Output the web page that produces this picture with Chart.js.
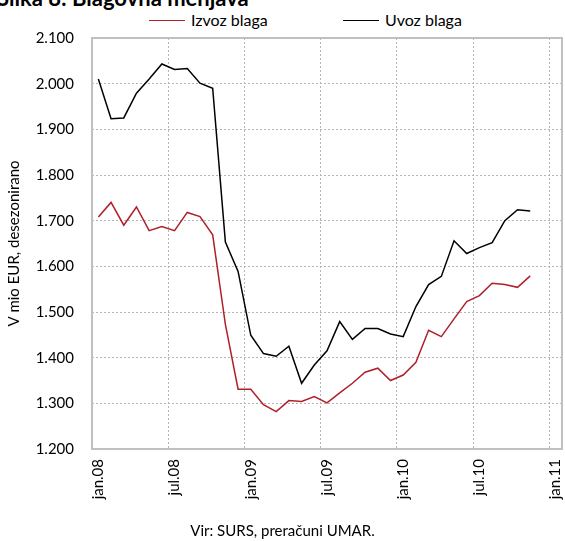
<!DOCTYPE html>
<html>
<head>
<meta charset="utf-8">
<script src="https://cdn.jsdelivr.net/npm/chart.js@4"></script>
<style>
  html, body { margin: 0; padding: 0; background: #fff; }
  #wrap { position: relative; width: 565px; height: 541px; overflow: hidden; font-family: Lato, sans-serif; color: #000; }
  #heading { position: absolute; left: -3px; top: -13px; font-size: 22px; line-height: 22px; font-weight: 700; white-space: nowrap; }
  .leg { position: absolute; top: 11px; font-size: 16px; line-height: 18px; white-space: nowrap; }
  .leg span { position: absolute; top: 9px; height: 0; border-top: 1.5px solid; }
  #source { position: absolute; left: 0; width: 565px; top: 521px; text-align: center; font-size: 15px; }
  canvas { position: absolute; left: 0; top: 0; }
</style>
</head>
<body>
<div id="wrap">
  <div id="heading">Slika 8: Blagovna menjava</div>
  <div class="leg" id="leg0"></div>
  <div class="leg" id="leg1"></div>
  <canvas id="chart" width="565" height="541"></canvas>
  <div id="source">Vir: SURS, preračuni UMAR.</div>
</div>
<script>
// Mesečni podatki, jan.08 - nov.10, v mio EUR (desezonirano)
const MONTHS = ['jan', 'feb', 'mar', 'apr', 'maj', 'jun', 'jul', 'avg', 'sep', 'okt', 'nov', 'dec'];
const YEARS = ['08', '09', '10', '11'];

const izvoz = [1708, 1740, 1690, 1730, 1678, 1687, 1678, 1718, 1709, 1669, 1473, 1331,
               1331, 1297, 1282, 1306, 1304, 1315, 1301, 1323, 1344, 1368, 1377, 1350,
               1362, 1390, 1460, 1446, 1485, 1523, 1536, 1563, 1560, 1554, 1579];
const uvoz = [2010, 1923, 1925, 1979, 2010, 2043, 2031, 2033, 2001, 1990, 1653, 1589,
              1449, 1409, 1403, 1425, 1344, 1384, 1415, 1479, 1440, 1464, 1464, 1452,
              1446, 1512, 1560, 1578, 1656, 1628, 1641, 1652, 1700, 1724, 1721];

const SERIES = [
    { label: 'Izvoz blaga', data: izvoz, color: '#b0202a', legX: 149 },
    { label: 'Uvoz blaga', data: uvoz, color: '#000000', legX: 343 }
];

// oznake: jan.08 ... jan.11 (37 mesecev)
const labels = [];
YEARS.forEach(y => MONTHS.forEach(m => labels.push(m + '.' + y)));
labels.length = 37;

const GRID = '#b5b5b5';

// legenda v HTML (razmik med elementoma je večji kot pri Chart.js)
SERIES.forEach((s, i) => {
    const el = document.getElementById('leg' + i);
    el.style.left = s.legX + 'px';
    el.innerHTML = `<span style="left:0;width:36px;border-color:${s.color}"></span>` +
        `<b style="font-weight:400;margin-left:42px">${s.label}</b>`;
});

const boxPlugin = {
    id: 'box',
    beforeDatasetsDraw(chart) {
        const { ctx, chartArea: a } = chart;
        ctx.save();
        ctx.strokeStyle = '#c0c0c0';
        ctx.lineWidth = 2;
        ctx.strokeRect(a.left, a.top, a.right - a.left, a.bottom - a.top);
        ctx.restore();
    }
};

Chart.defaults.font.family = 'Lato, sans-serif';
Chart.defaults.font.size = 15;
Chart.defaults.color = '#000';

new Chart(document.getElementById('chart'), {
    type: 'line',
    data: {
        labels: labels,
        datasets: SERIES.map(s => ({
            label: s.label,
            data: s.data,
            borderColor: s.color,
            borderWidth: 1.5,
            pointRadius: 0,
            tension: 0,
            fill: false
        }))
    },
    options: {
        responsive: false,
        animation: false,
        layout: { padding: { top: 38, right: 3, bottom: 0, left: 0 } },
        plugins: {
            legend: { display: false },
            tooltip: { enabled: false }
        },
        scales: {
            x: {
                offset: true,
                afterFit: s => {
                    s.height = 92;
                    s.paddingLeft = 0;
                    s.paddingRight = 0;
                },
                grid: {
                    offset: true,
                    drawTicks: false,
                    color: c => (c.index % 6 === 0 ? GRID : 'transparent'),
                    lineWidth: 1
                },
                border: { display: false, dash: [2, 2] },
                ticks: {
                    autoSkip: false,
                    maxRotation: 90,
                    minRotation: 90,
                    padding: 10,
                    callback: function (v, i) {
                        return i % 6 === 0 ? this.getLabelForValue(v) : '';
                    }
                }
            },
            y: {
                min: 1200,
                max: 2100,
                afterFit: s => { s.width = 92; },
                grid: { drawTicks: false, color: GRID, lineWidth: 1 },
                border: { display: false, dash: [2, 2] },
                ticks: {
                    stepSize: 100,
                    padding: 18,
                    callback: v => (v / 1000).toFixed(3)
                },
                title: {
                    display: true,
                    text: 'V mio EUR, desezonirano',
                    padding: { top: 5, bottom: 0 },
                    font: { size: 15 }
                }
            }
        }
    },
    plugins: [boxPlugin]
});
</script>
</body>
</html>
